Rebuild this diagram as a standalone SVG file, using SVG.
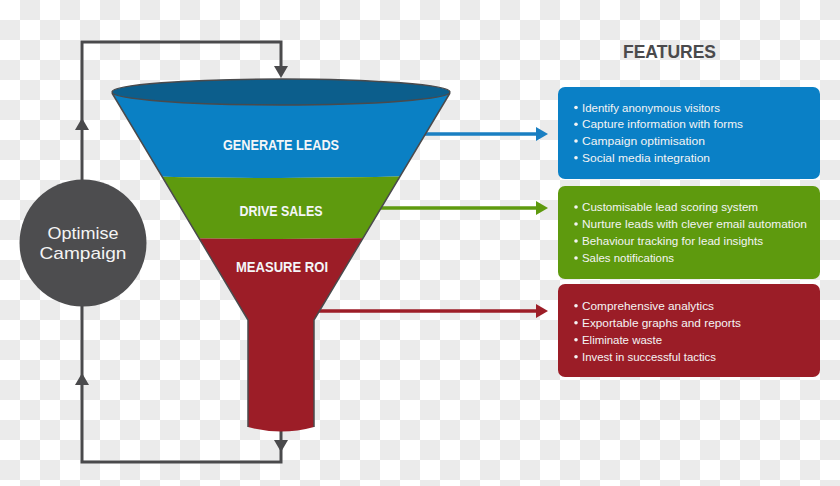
<svg xmlns="http://www.w3.org/2000/svg" width="840" height="486" viewBox="0 0 840 486">
  <defs>
    <pattern id="checker" x="0" y="0" width="40" height="40" patternUnits="userSpaceOnUse">
      <rect width="40" height="40" fill="#ffffff"/>
      <rect x="20" y="0" width="20" height="20" fill="#ebebeb"/>
      <rect x="0" y="20" width="20" height="20" fill="#ebebeb"/>
    </pattern>
    <marker id="ah-gray" markerUnits="userSpaceOnUse" markerWidth="14" markerHeight="14" refX="4" refY="7" orient="auto">
      <path d="M0,0 L12,7 L0,14 Z" fill="#4a4a4c"/>
    </marker>
    <marker id="ah-blue" markerUnits="userSpaceOnUse" markerWidth="14" markerHeight="14" refX="4" refY="7" orient="auto">
      <path d="M0,0 L12,7 L0,14 Z" fill="#1a7fc2"/>
    </marker>
    <marker id="ah-green" markerUnits="userSpaceOnUse" markerWidth="14" markerHeight="14" refX="4" refY="7" orient="auto">
      <path d="M0,0 L12,7 L0,14 Z" fill="#5e9a0e"/>
    </marker>
    <marker id="ah-red" markerUnits="userSpaceOnUse" markerWidth="14" markerHeight="14" refX="4" refY="7" orient="auto">
      <path d="M0,0 L12,7 L0,14 Z" fill="#9c1d27"/>
    </marker>
    <clipPath id="cone">
      <path d="M112,93 L248,320 L248,427 Q281,436 314,427 L314,320 L450,93 A169,13 0 0 0 112,93 Z"/>
    </clipPath>
  </defs>
  <style>
    .loop { fill: none; stroke: #4a4a4c; stroke-width: 3; }
    .feed { fill: none; stroke-width: 3.5; }
    .stage { font-family: "Liberation Sans", Arial, sans-serif; font-weight: bold; font-size: 15px; fill: #f4f6f8; text-anchor: middle; }
    .item { font-family: "Liberation Sans", Arial, sans-serif; font-size: 11.5px; fill: #f4f4f4; }
    .dot { fill: #f4f4f4; }
    .circ { font-family: "Liberation Sans", Arial, sans-serif; font-size: 17px; fill: #f4f4f4; text-anchor: middle; }
    .title { font-family: "Liberation Sans", Arial, sans-serif; font-weight: bold; font-size: 19px; fill: #4a4a4c; }
  </style>

  <rect width="840" height="486" fill="url(#checker)"/>

  <g id="connectors">
    <!-- feedback loop -->
    <path class="loop" d="M82,180 V126" marker-end="url(#ah-gray)"/>
    <path class="loop" d="M82,128 V42 H281 V70" marker-end="url(#ah-gray)"/>
    <path class="loop" d="M281,430 V444" marker-end="url(#ah-gray)"/>
    <path class="loop" d="M281,446 V462 H82 V381" marker-end="url(#ah-gray)"/>
    <path class="loop" d="M82,383 V306"/>
    <!-- stage to features -->
    <path class="feed" stroke="#1a7fc2" d="M420,134 H540" marker-end="url(#ah-blue)"/>
    <path class="feed" stroke="#5e9a0e" d="M378,208 H540" marker-end="url(#ah-green)"/>
    <path class="feed" stroke="#9c1d27" d="M316,311 H540" marker-end="url(#ah-red)"/>
  </g>

  <g id="optimise-campaign">
    <circle cx="83" cy="243" r="63.5" fill="#4d4d4f"/>
    <text class="circ" x="83" y="239" textLength="71" lengthAdjust="spacingAndGlyphs">Optimise</text>
    <text class="circ" x="83" y="259" textLength="87" lengthAdjust="spacingAndGlyphs">Campaign</text>
  </g>

  <g id="funnel">
    <g clip-path="url(#cone)">
      <path id="band-generate" d="M100,70 H460 V175 Q281,181 100,175 Z" fill="#0a80c4"/>
      <path id="band-drive" d="M100,175 Q281,181 460,175 V236 Q281,242 100,236 Z" fill="#5e9a0e"/>
      <path id="band-measure" d="M100,236 Q281,242 460,236 V450 H100 Z" fill="#9c1d27"/>
    </g>
    <path d="M112,93 L248,320 L248,427 M314,427 L314,320 L450,93" fill="none" stroke="#4a4a4c" stroke-width="1.5"/>
    <ellipse cx="281" cy="92" rx="169" ry="13" fill="#0c5e8c" stroke="#4a4a4c" stroke-width="1.5"/>
  </g>

  <g id="generate-leads">
    <text class="stage" x="281" y="150" textLength="116" lengthAdjust="spacingAndGlyphs">GENERATE LEADS</text>
  </g>
  <g id="drive-sales">
    <text class="stage" x="281" y="216" textLength="83" lengthAdjust="spacingAndGlyphs">DRIVE SALES</text>
  </g>
  <g id="measure-roi">
    <text class="stage" x="282" y="272" textLength="92" lengthAdjust="spacingAndGlyphs">MEASURE ROI</text>
  </g>

  <g id="features-title">
    <text class="title" x="623" y="58" textLength="93" lengthAdjust="spacingAndGlyphs">FEATURES</text>
  </g>

  <g id="features-leads">
    <rect x="558" y="87" width="262" height="92" rx="7" fill="#0a80c6"/>
    <circle class="dot" cx="576" cy="107.5" r="1.8"/>
    <text class="item" x="582" y="111.5" textLength="138" lengthAdjust="spacingAndGlyphs">Identify anonymous visitors</text>
    <circle class="dot" cx="576" cy="124.3" r="1.8"/>
    <text class="item" x="582" y="128.3" textLength="161" lengthAdjust="spacingAndGlyphs">Capture information with forms</text>
    <circle class="dot" cx="576" cy="141" r="1.8"/>
    <text class="item" x="582" y="145" textLength="123" lengthAdjust="spacingAndGlyphs">Campaign optimisation</text>
    <circle class="dot" cx="576" cy="157.8" r="1.8"/>
    <text class="item" x="582" y="161.8" textLength="128" lengthAdjust="spacingAndGlyphs">Social media integration</text>
  </g>

  <g id="features-sales">
    <rect x="558" y="186" width="262" height="93" rx="7" fill="#5e9a0e"/>
    <circle class="dot" cx="576" cy="207" r="1.8"/>
    <text class="item" x="582" y="211" textLength="176" lengthAdjust="spacingAndGlyphs">Customisable lead scoring system</text>
    <circle class="dot" cx="576" cy="224" r="1.8"/>
    <text class="item" x="582" y="228" textLength="225" lengthAdjust="spacingAndGlyphs">Nurture leads with clever email automation</text>
    <circle class="dot" cx="576" cy="241" r="1.8"/>
    <text class="item" x="582" y="245" textLength="181" lengthAdjust="spacingAndGlyphs">Behaviour tracking for lead insights</text>
    <circle class="dot" cx="576" cy="258" r="1.8"/>
    <text class="item" x="582" y="262" textLength="92" lengthAdjust="spacingAndGlyphs">Sales notifications</text>
  </g>

  <g id="features-roi">
    <rect x="558" y="284" width="262" height="93" rx="7" fill="#9b1d27"/>
    <circle class="dot" cx="576" cy="305.7" r="1.8"/>
    <text class="item" x="582" y="309.7" textLength="132" lengthAdjust="spacingAndGlyphs">Comprehensive analytics</text>
    <circle class="dot" cx="576" cy="322.7" r="1.8"/>
    <text class="item" x="582" y="326.7" textLength="159" lengthAdjust="spacingAndGlyphs">Exportable graphs and reports</text>
    <circle class="dot" cx="576" cy="339.7" r="1.8"/>
    <text class="item" x="582" y="343.7" textLength="80" lengthAdjust="spacingAndGlyphs">Eliminate waste</text>
    <circle class="dot" cx="576" cy="356.7" r="1.8"/>
    <text class="item" x="582" y="360.7" textLength="134" lengthAdjust="spacingAndGlyphs">Invest in successful tactics</text>
  </g>
</svg>
